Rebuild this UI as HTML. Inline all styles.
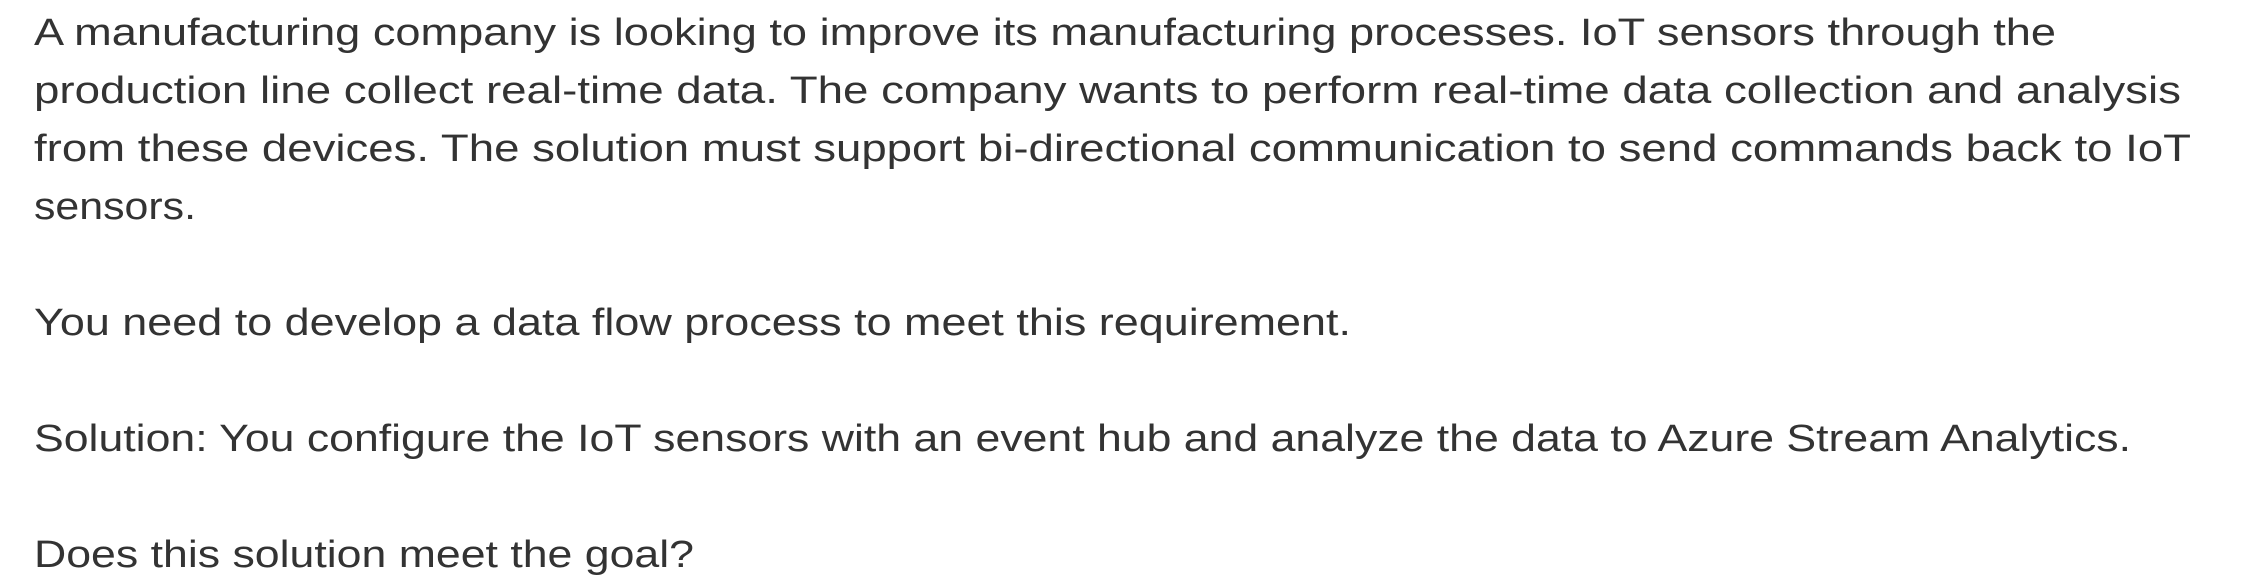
<!DOCTYPE html>
<html><head><meta charset="utf-8">
<style>
html,body{margin:0;padding:0;background:#fff;width:2253px;height:577px;overflow:hidden}
#q{position:absolute;left:34px;top:4px;font-family:"Liberation Sans",sans-serif;font-size:38px;line-height:58px;color:#333}
.l{white-space:nowrap;height:58px;transform-origin:0 0}
.l span{display:inline-block;transform-origin:0 0}
</style></head><body>
<div id="q">
<div class="l"><span data-w="2022">A manufacturing company is looking to improve its manufacturing processes. IoT sensors through the</span></div>
<div class="l"><span data-w="2147">production line collect real-time data. The company wants to perform real-time data collection and analysis</span></div>
<div class="l"><span data-w="2157">from these devices. The solution must support bi-directional communication to send commands back to IoT</span></div>
<div class="l"><span data-w="162">sensors.</span></div>
<div class="l"></div>
<div class="l"><span data-w="1317">You need to develop a data flow process to meet this requirement.</span></div>
<div class="l"></div>
<div class="l"><span data-w="2097">Solution: You configure the IoT sensors with an event hub and analyze the data to Azure Stream Analytics.</span></div>
<div class="l"></div>
<div class="l"><span data-w="660">Does this solution meet the goal?</span></div>
</div>
<script>
document.querySelectorAll('.l span').forEach(function(s){
  var w=+s.getAttribute('data-w');var r=s.getBoundingClientRect().width;
  if(r>0){s.style.transform='scaleX('+(w/r)+')';}
});
</script>
</body></html>
